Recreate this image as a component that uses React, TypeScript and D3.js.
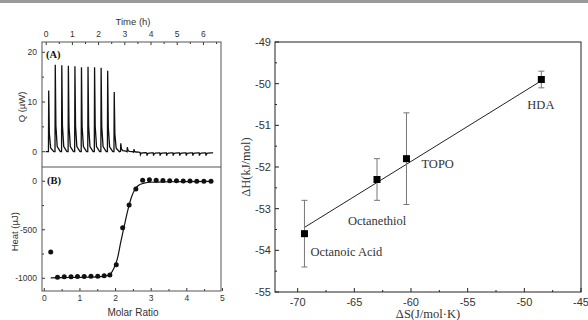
import * as d3 from "d3";

// panel A: raw ITC trace, one spike per injection
const injTimes = [0.09, 0.34, 0.59, 0.84, 1.09, 1.34, 1.59, 1.84, 2.09, 2.34, 2.59, 2.84, 3.09, 3.34, 3.59, 3.84, 4.09, 4.34, 4.59, 4.84, 5.09, 5.34, 5.59, 5.84, 6.09];
const qPeak = [12.3, 17.5, 17.4, 17.3, 17.2, 17.0, 17.1, 17.0, 16.9, 16.3, 12.0, 1.7, 0.9, 0.5, -0.6, -0.8, -0.8, -0.8, -0.8, -0.8, -0.8, -0.8, -0.8, -0.8, -0.8];
const qBase = [0, 0, 0, 0, 0, 0, 0, 0, 0, 0, 0, 0.1, 0, -0.1, -0.2, -0.25, -0.25, -0.25, -0.25, -0.25, -0.25, -0.25, -0.25, -0.25, -0.25];
const timeTicks = [0, 1, 2, 3, 4, 5, 6];
const qTicks = [0, 10, 20];

// panel B: integrated heats and fit
const molarRatio = [0.18, 0.37, 0.56, 0.75, 0.93, 1.12, 1.31, 1.5, 1.68, 1.84, 2.02, 2.2, 2.38, 2.57, 2.76, 2.95, 3.14, 3.33, 3.52, 3.71, 3.9, 4.09, 4.28, 4.48, 4.68];
const heat = [-730, -990, -985, -983, -982, -982, -980, -978, -975, -965, -860, -480, -245, -80, 10, 15, 10, 8, 5, 4, 3, 2, 0, 0, 0];
const fitX = [0.18, 0.5, 1.0, 1.5, 1.8, 1.95, 2.05, 2.15, 2.25, 2.35, 2.45, 2.55, 2.65, 2.8, 3.0, 3.5, 4.0, 4.7];
const fitY = [-995, -993, -990, -985, -970, -900, -800, -620, -450, -290, -160, -80, -40, -20, -10, -5, -3, -2];
const ratioTicks = [0, 1, 2, 3, 4, 5];
const heatTicks = [0, -500, -1000];

// right panel: enthalpy-entropy compensation
const ligands = ["Octanoic Acid", "Octanethiol", "TOPO", "HDA"];
const dS = [-69.4, -63.0, -60.4, -48.5];
const dH = [-53.6, -52.3, -51.8, -49.9];
const dHerr = [0.8, 0.5, 1.1, 0.2];
const fitS = [-69.4, -48.5];
const fitH = [-53.45, -49.93];
const sTicks = [-70, -65, -60, -55, -50, -45];
const hTicks = [-49, -50, -51, -52, -53, -54, -55];

const labelOffset = [
  [6, 22],
  [-29, 45],
  [15, 9],
  [-14, 29],
];

export default function App() {
  // left frame
  const L = 42, R = 221, TA = 42, MID = 167, BB = 291;
  const xT = d3.scaleLinear().domain([-0.16, 6.67]).range([L, R]);
  const yQ = d3.scaleLinear().domain([-3.08, 22.07]).range([MID, TA]);
  const xM = d3.scaleLinear().domain([-0.065, 4.96]).range([L, R]);
  const yHt = d3.scaleLinear().domain([-1131, 147]).range([BB, MID]);

  // right frame
  const xS = d3.scaleLinear().domain([-72, -45]).range([275, 581]);
  const yH = d3.scaleLinear().domain([-55, -49]).range([292, 42]);

  const trace: [number, number][] = [[-0.02, 0]];
  injTimes.forEach((t, i) => {
    const b = qBase[i], p = qPeak[i];
    trace.push([t - 0.004, b], [t + 0.006, p], [t + 0.03, b + (p - b) * 0.3], [t + 0.08, b + (p - b) * 0.06], [t + 0.2, b]);
  });
  trace.push([6.37, -0.25]);

  const traceLine = d3.line<[number, number]>().x((d) => xT(d[0])).y((d) => yQ(d[1]));
  const fitLine = d3.line<number>().x((d) => xM(d)).y((_, i) => yHt(fitY[i])).curve(d3.curveMonotoneX);
  const compLine = d3.line<number>().x((d) => xS(d)).y((_, i) => yH(fitH[i]));

  const sans = "Liberation Sans, Arial, sans-serif";
  const serif = "Liberation Serif, Times New Roman, serif";
  const leftCol = "#333";

  const half = (ticks: number[]) => ticks.slice(0, -1).map((v, i) => (v + ticks[i + 1]) / 2);

  return (
    <svg width={588} height={320} style={{ position: "absolute", left: 0, top: 0, background: "#fff" }}>
      <rect x={0} y={0} width={588} height={3} fill="#9a9a9a" />

      {/* ---------- panel A ---------- */}
      <text x={133} y={25} fontSize={9.5} fontFamily={sans} textAnchor="middle" fill={leftCol}>Time (h)</text>
      {timeTicks.map((t) => (
        <g key={"tt" + t}>
          <line x1={xT(t)} x2={xT(t)} y1={TA} y2={TA + 3} stroke={leftCol} />
          <text x={xT(t)} y={37} fontSize={8.5} fontFamily={sans} textAnchor="middle" fill={leftCol}>{t}</text>
        </g>
      ))}
      {half(timeTicks).concat([6.5]).map((t) => (
        <line key={"tm" + t} x1={xT(t)} x2={xT(t)} y1={TA} y2={TA + 2} stroke={leftCol} />
      ))}
      {qTicks.map((q) => (
        <g key={"qt" + q}>
          <line x1={L} x2={L + 3} y1={yQ(q)} y2={yQ(q)} stroke={leftCol} />
          <text x={37} y={yQ(q) + 3} fontSize={8.5} fontFamily={sans} textAnchor="end" fill={leftCol}>{q}</text>
        </g>
      ))}
      {[5, 15].map((q) => (
        <line key={"qm" + q} x1={L} x2={L + 2} y1={yQ(q)} y2={yQ(q)} stroke={leftCol} />
      ))}
      <text transform={`translate(25,${yQ(9)}) rotate(-90)`} fontSize={9.5} fontFamily={sans} textAnchor="middle" fill={leftCol}>Q (µW)</text>
      <text x={46} y={58} fontSize={10.5} fontWeight="bold" fontFamily={serif} fill="#111">(A)</text>
      <path d={traceLine(trace) || ""} fill="none" stroke="#111" strokeWidth={1.3} />

      {/* ---------- panel B ---------- */}
      {ratioTicks.map((m) => (
        <g key={"mt" + m}>
          <line x1={xM(m)} x2={xM(m)} y1={BB} y2={BB - 3} stroke={leftCol} />
          <text x={xM(m)} y={301} fontSize={8.5} fontFamily={sans} textAnchor="middle" fill={leftCol}>{m}</text>
        </g>
      ))}
      {half(ratioTicks).map((m) => (
        <line key={"mm" + m} x1={xM(m)} x2={xM(m)} y1={BB} y2={BB - 2} stroke={leftCol} />
      ))}
      {heatTicks.map((h) => (
        <g key={"ht" + h}>
          <line x1={L} x2={L + 3} y1={yHt(h)} y2={yHt(h)} stroke={leftCol} />
          <text x={37} y={yHt(h) + 3} fontSize={8.5} fontFamily={sans} textAnchor="end" fill={leftCol}>{h}</text>
        </g>
      ))}
      {[-250, -750].map((h) => (
        <line key={"hm" + h} x1={L} x2={L + 2} y1={yHt(h)} y2={yHt(h)} stroke={leftCol} />
      ))}
      <text x={133} y={316} fontSize={10} fontFamily={sans} textAnchor="middle" fill={leftCol}>Molar Ratio</text>
      <text transform={`translate(18,${yHt(-520)}) rotate(-90)`} fontSize={9.5} fontFamily={sans} textAnchor="middle" fill={leftCol}>Heat (µJ)</text>
      <text x={47} y={184} fontSize={10.5} fontWeight="bold" fontFamily={serif} fill="#111">(B)</text>
      <path d={fitLine(fitX) || ""} fill="none" stroke="#111" strokeWidth={1.2} />
      {molarRatio.map((m, i) => (
        <circle key={"pt" + i} cx={xM(m)} cy={yHt(heat[i])} r={2.5} fill="#111" />
      ))}

      {/* left frames */}
      <rect x={L} y={TA} width={R - L} height={BB - TA} fill="none" stroke="#555" />
      <line x1={L} x2={R} y1={MID} y2={MID} stroke="#555" />

      {/* ---------- right panel ---------- */}
      {sTicks.map((s) => (
        <g key={"st" + s}>
          <line x1={xS(s)} x2={xS(s)} y1={292} y2={288} stroke="#222" />
          <text x={xS(s)} y={306} fontSize={11} fontFamily={sans} textAnchor="middle" fill="#333">{s}</text>
        </g>
      ))}
      {half(sTicks).map((s) => (
        <line key={"sm" + s} x1={xS(s)} x2={xS(s)} y1={292} y2={290} stroke="#222" />
      ))}
      {hTicks.map((h) => (
        <g key={"hh" + h}>
          <line x1={275} x2={279} y1={yH(h)} y2={yH(h)} stroke="#222" />
          <text x={271} y={yH(h) + 4} fontSize={11} fontFamily={sans} textAnchor="end" fill="#333">{h}</text>
        </g>
      ))}
      {half(hTicks).map((h) => (
        <line key={"hmm" + h} x1={275} x2={277} y1={yH(h)} y2={yH(h)} stroke="#222" />
      ))}
      <text transform={`translate(250,${yH(-52)}) rotate(-90)`} fontSize={12.5} fontFamily={serif} textAnchor="middle" fill="#333">ΔH(kJ/mol)</text>
      <text x={428} y={318} fontSize={12.5} fontFamily={serif} textAnchor="middle" fill="#333">ΔS(J/mol·K)</text>

      <path d={compLine(fitS) || ""} fill="none" stroke="#222" strokeWidth={1} />
      {dS.map((s, i) => (
        <g key={"lg" + i}>
          <line x1={xS(s)} x2={xS(s)} y1={yH(dH[i] + dHerr[i])} y2={yH(dH[i] - dHerr[i])} stroke="#777" />
          <line x1={xS(s) - 3} x2={xS(s) + 3} y1={yH(dH[i] + dHerr[i])} y2={yH(dH[i] + dHerr[i])} stroke="#777" />
          <line x1={xS(s) - 3} x2={xS(s) + 3} y1={yH(dH[i] - dHerr[i])} y2={yH(dH[i] - dHerr[i])} stroke="#777" />
          <rect x={xS(s) - 3.5} y={yH(dH[i]) - 3.5} width={7} height={7} fill="#000" />
          <text x={xS(s) + labelOffset[i][0]} y={yH(dH[i]) + labelOffset[i][1]} fontSize={12.5} fontFamily={serif} fill="#333">{ligands[i]}</text>
        </g>
      ))}
      <rect x={275} y={42} width={306} height={250} fill="none" stroke="#222" />
    </svg>
  );
}
